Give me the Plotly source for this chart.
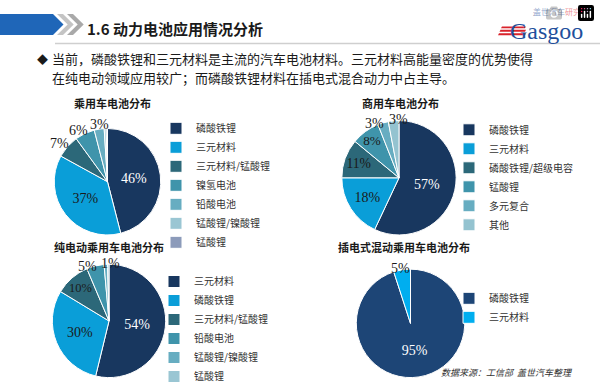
import math
import plotly.graph_objects as go

W, H = 600, 391

# ---------------- data ----------------
car_labels = ["磷酸铁锂", "三元材料", "三元材料/锰酸锂", "镍氢电池", "铅酸电池", "锰酸锂/镍酸锂", "锰酸锂"]
car_values = [46, 37, 7, 6, 3, 0.6, 0.4]

com_labels = ["磷酸铁锂", "三元材料", "磷酸铁锂/超级电容", "锰酸锂", "多元复合", "其他"]
com_values = [57, 18, 11, 8, 3, 3]

bev_labels = ["三元材料", "磷酸铁锂", "三元材料/锰酸锂", "铅酸电池", "锰酸锂/镍酸锂", "锰酸锂"]
bev_values = [54, 30, 10, 5, 1, 0.4]

phev_labels = ["磷酸铁锂", "三元材料"]
phev_values = [95, 5]

chart_titles = ["乘用车电池分布", "商用车电池分布", "纯电动乘用车电池分布", "插电式混动乘用车电池分布"]

# ---------------- styles ----------------
navy = "#18375F"
bright = "#0A9ED8"
dteal = "#2C6879"
teal = "#3F94AB"
lteal = "#67ADC1"
llteal = "#9AC6D3"
lav = "#8C9BBA"
dark = "#1a1a1a"

CJK = "Noto Sans CJK SC"
SERIF = "Liberation Serif"
PCT_SIZE = 14


def px(x):
    return x / W


def py(y):
    return 1 - y / H


def domain(cx, cy, r):
    return dict(x=[px(cx - r), px(cx + r)], y=[py(cy + r), py(cy - r)])


fig = go.Figure()
ann = []


def text(x, y, t, size, color="#222222", family=CJK, xanchor="left", yanchor="middle", align="left"):
    ann.append(dict(x=px(x), y=py(y), xref="paper", yref="paper", text=t, showarrow=False,
                    xanchor=xanchor, yanchor=yanchor, align=align, borderpad=0,
                    font=dict(family=family, size=size, color=color)))


def outside_labels(values, pos, cx, cy, r, lift, min_sep=20):
    """Percent labels for small slices, placed at the pie edge."""
    total = sum(values)
    cum = 0
    items = []
    for v, p in zip(values, pos):
        mid = (cum + v / 2) / total * 360
        cum += v
        if p == "outside":
            items.append([mid, v])
    for _ in range(10):
        for i in range(len(items) - 1):
            a, b = items[i][0], items[i + 1][0]
            if b - a < min_sep:
                m = (a + b) / 2
                items[i][0] = m - min_sep / 2
                items[i + 1][0] = m + min_sep / 2
    for ang, v in items:
        t = math.radians(ang)
        s, c = math.sin(t), math.cos(t)
        label = f"{v:.0f}%"
        w = PCT_SIZE * (0.5 * (len(label) - 1) + 0.833)
        h = PCT_SIZE * lift
        x = cx + r * s + w / 2 * s
        y = cy - r * c - h / 2 * c
        text(x, y, label, PCT_SIZE, dark, SERIF, xanchor="center")


pies = [
    dict(labels=car_labels, values=car_values, geo=(107.5, 186, 54.5), legend="legend", lift=0.6,
         colors=[navy, bright, dteal, teal, lteal, llteal, lav],
         pos=["inside", "inside", "outside", "outside", "outside", "none", "none"],
         tcol=["white", dark, dark, dark, dark, dark, dark]),
    dict(labels=com_labels, values=com_values, geo=(399, 182, 58.5), legend="legend2", lift=0.2,
         colors=[navy, bright, dteal, teal, lteal, "#94C3D0"],
         pos=["inside", "inside", "inside", "inside", "outside", "outside"],
         tcol=["white", dark, dark, dark, dark, dark]),
    dict(labels=bev_labels, values=bev_values, geo=(109, 328.5, 58), legend="legend3", lift=0.1,
         colors=[navy, bright, dteal, teal, lteal, llteal],
         pos=["inside", "inside", "inside", "outside", "outside", "none"],
         tcol=["white", dark, dark, dark, dark, dark]),
    dict(labels=phev_labels, values=phev_values, geo=(410.5, 331, 55.5), legend="legend4", lift=0.2,
         colors=["#1D4576", "#00AEEF"],
         pos=["inside", "outside"],
         tcol=["white", dark]),
]

for k, p in enumerate(pies):
    cx, cy, r = p["geo"]
    # pie legend entries are shared by label across traces; keep them distinct per chart
    uniq = [lab + " " * k for lab in p["labels"]]
    fig.add_trace(go.Pie(
        labels=uniq, values=p["values"], sort=False, direction="clockwise", rotation=0,
        domain=domain(cx, cy, r), legend=p["legend"],
        marker=dict(colors=p["colors"], line=dict(color="white", width=1)),
        texttemplate="%{value:.0f}%",
        textposition=["inside" if q == "inside" else "none" for q in p["pos"]],
        textfont=dict(family=SERIF, size=PCT_SIZE, color=p["tcol"]),
        insidetextorientation="horizontal", hoverinfo="label+value",
    ))
    outside_labels(p["values"], p["pos"], cx, cy, r, p["lift"])

legend_common = dict(bgcolor="rgba(0,0,0,0)", borderwidth=0, xanchor="left", yanchor="top",
                     font=dict(family=CJK, size=10, color="#333333"), traceorder="normal")

fig.update_layout(
    width=W, height=H, margin=dict(l=0, r=0, t=0, b=0),
    paper_bgcolor="white", plot_bgcolor="white", showlegend=True,
    legend=dict(x=px(156), y=py(116.5), **legend_common),
    legend2=dict(x=px(449), y=py(118), **legend_common),
    legend3=dict(x=px(154), y=py(273.5), **legend_common),
    legend4=dict(x=px(449), y=py(290.5), **legend_common),
)

# ---------------- header decorations ----------------
def path(points):
    return "M " + " L ".join(f"{px(x)},{py(y)}" for x, y in points) + " Z"


shapes = []
shapes.append(dict(type="path", xref="paper", yref="paper",
                   path=path([(0, 14.3), (53, 14.3), (63.5, 25), (53, 35.7), (0, 35.7)]),
                   fillcolor="#1F66B8", line=dict(width=0)))
for x0, col in [(57, "#C4C4C4"), (67, "#A9A9A9")]:
    shapes.append(dict(type="path", xref="paper", yref="paper",
                       path=path([(x0, 14.3), (x0 + 6, 14.3), (x0 + 16.7, 25), (x0 + 6, 35.7),
                                  (x0, 35.7), (x0 + 10.7, 25)]),
                       fillcolor=col, line=dict(width=0)))
shapes.append(dict(type="line", xref="paper", yref="paper", x0=px(55), x1=1, y0=py(44.5), y1=py(44.5),
                   line=dict(color="#CFCFCF", width=1.5)))
for i, yy in enumerate([28, 31.5, 35]):
    shapes.append(dict(type="path", xref="paper", yref="paper",
                       path=path([(502 - i * 1.5, yy - 1), (526, yy - 1), (525, yy + 1), (501 - i * 1.5, yy + 1)]),
                       fillcolor="#D9232B", line=dict(width=0)))
fig.update_layout(shapes=shapes)

text(86, 29.5, "<b>1.6 动力电池应用情况分析</b>", 15, "#1a1a1a")
text(36, 60.5, "◆", 11, "#1a1a1a")
text(51, 60, "当前，磷酸铁锂和三元材料是主流的汽车电池材料。三元材料高能量密度的优势使得", 13, "#1a1a1a")
text(51, 79, "在纯电动领域应用较广；而磷酸铁锂材料在插电式混合动力中占主导。", 13, "#1a1a1a")

text(509, 31.5, "Gasgoo", 24, "#1E4F9C", family=SERIF)
text(532, 12, '<span style="color:#1E4F9C">盖世汽车</span><span style="color:#D9232B">研究院</span>', 8, family=CJK)

title_pos = [(112.5, 105), (400.5, 105), (109, 253), (404, 253)]
for (tx, ty), t in zip(title_pos, chart_titles):
    text(tx, ty, f"<b>{t}</b>", 11, "#1a1a1a", xanchor="center")

text(574, 381.5, "<i>数据来源：工信部  盖世汽车整理</i>", 9, "#333333", xanchor="right")

fig.update_layout(annotations=ann)

fig.write_html("out.html", post_script="document.body.style.margin='0px';")
